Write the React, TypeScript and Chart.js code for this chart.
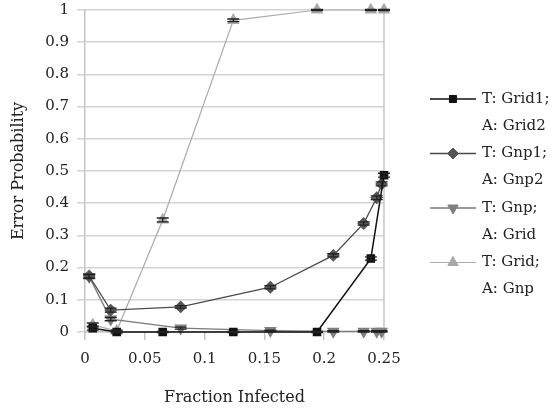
import React, { useEffect, useRef } from "react";
import { Chart, registerables } from "chart.js";
import { drawPoint } from "chart.js/helpers";

Chart.register(...registerables);

const xTickLabels = ["0", "0.05", "0.1", "0.15", "0.2", "0.25"];
const yTickLabels = ["0", "0.1", "0.2", "0.3", "0.4", "0.5", "0.6", "0.7", "0.8", "0.9", "1"];

const xGrid = [0.0065, 0.0265, 0.065, 0.124, 0.194, 0.239, 0.25];
const xGnp = [0.0035, 0.0215, 0.08, 0.155, 0.2076, 0.233, 0.2439, 0.248];

const yGrid1Grid2 = [0.012, 0.0, 0.0, 0.0, 0.0, 0.228, 0.487];
const eGrid1Grid2 = [0.006, 0.003, 0.002, 0.002, 0.002, 0.005, 0.006];

const yGnp1Gnp2 = [0.174, 0.068, 0.078, 0.139, 0.238, 0.337, 0.417, 0.46];
const eGnp1Gnp2 = [0.006, 0.006, 0.004, 0.005, 0.005, 0.005, 0.006, 0.006];

const yGnpGrid = [0.172, 0.04, 0.012, 0.004, 0.002, 0.002, 0.002, 0.002];
const eGnpGrid = [0.006, 0.005, 0.003, 0.002, 0.002, 0.002, 0.002, 0.002];

const yGridGnp = [0.022, 0.003, 0.348, 0.968, 1.0, 1.0, 1.0];
const eGridGnp = [0.006, 0.003, 0.006, 0.004, 0.002, 0.002, 0.002];

const seriesNames = [
  ["T: Grid1;", "A: Grid2"],
  ["T: Gnp1;", "A: Gnp2"],
  ["T: Gnp;", "A: Grid"],
  ["T: Grid;", "A: Gnp"],
];

const FONT = "'DejaVu Serif', serif";
const FSIZE = 15;

const toPts = (xs: number[], ys: number[]) => xs.map((x, i) => ({ x, y: ys[i] }));

const errorBarPlugin = {
  id: "errorBars",
  afterDatasetsDraw(chart: any) {
    const ctx = chart.ctx;
    const xs = chart.scales.x;
    const ys = chart.scales.y;
    chart.data.datasets.forEach((ds: any) => {
      const errs: number[] = ds.errors || [];
      ctx.save();
      ctx.strokeStyle = "#222";
      ctx.lineWidth = 1.3;
      ds.data.forEach((p: any, i: number) => {
        const e = errs[i] || 0;
        const px = xs.getPixelForValue(p.x);
        const y1 = ys.getPixelForValue(p.y + e);
        const y2 = ys.getPixelForValue(p.y - e);
        ctx.beginPath();
        ctx.moveTo(px, y1);
        ctx.lineTo(px, y2);
        ctx.moveTo(px - 6, y1);
        ctx.lineTo(px + 6, y1);
        ctx.moveTo(px - 6, y2);
        ctx.lineTo(px + 6, y2);
        ctx.stroke();
      });
      ctx.restore();
    });
  },
};

const frameAndLegendPlugin = {
  id: "frameLegend",
  beforeDatasetsDraw(chart: any) {
    const ctx = chart.ctx;
    const a = chart.chartArea;
    ctx.save();
    ctx.strokeStyle = "#c4c4c4";
    ctx.lineWidth = 1.5;
    ctx.beginPath();
    ctx.moveTo(a.right, a.top);
    ctx.lineTo(a.right, a.bottom);
    ctx.stroke();
    ctx.restore();
  },
  afterDraw(chart: any) {
    const ctx = chart.ctx;
    const top = 99;
    const gap = 54.5;
    chart.data.datasets.forEach((ds: any, i: number) => {
      const y = top + i * gap;
      ctx.save();
      ctx.strokeStyle = ds.borderColor;
      ctx.lineWidth = ds.borderWidth;
      ctx.beginPath();
      ctx.moveTo(430, y);
      ctx.lineTo(476, y);
      ctx.stroke();
      ctx.fillStyle = ds.pointBackgroundColor;
      ctx.strokeStyle = ds.pointBorderColor;
      ctx.lineWidth = 1;
      drawPoint(
        ctx,
        { pointStyle: ds.pointStyle, rotation: ds.pointRotation || 0, radius: ds.pointRadius, borderWidth: 1 },
        453,
        y
      );
      ctx.fillStyle = "#222";
      ctx.font = `${FSIZE}px ${FONT}`;
      ctx.textBaseline = "middle";
      ctx.textAlign = "left";
      const lines: string[] = ds.label;
      lines.forEach((t, k) => ctx.fillText(t, 482, y + k * 27));
      ctx.restore();
    });
  },
};

export default function App() {
  const ref = useRef<HTMLCanvasElement>(null);
  useEffect(() => {
    document.body.style.margin = "0";
    const canvas = ref.current!;
    const chart = new Chart(canvas, {
      type: "scatter",
      data: {
        datasets: [
          {
            label: seriesNames[0] as any,
            data: toPts(xGrid, yGrid1Grid2),
            errors: eGrid1Grid2,
            showLine: true,
            borderColor: "#111111",
            borderWidth: 1.5,
            pointStyle: "rect",
            pointRadius: 5,
            pointBackgroundColor: "#111111",
            pointBorderColor: "#111111",
          } as any,
          {
            label: seriesNames[1] as any,
            data: toPts(xGnp, yGnp1Gnp2),
            errors: eGnp1Gnp2,
            showLine: true,
            borderColor: "#4a4a4a",
            borderWidth: 1.3,
            pointStyle: "rectRot",
            pointRadius: 5.5,
            pointBackgroundColor: "#555555",
            pointBorderColor: "#555555",
          } as any,
          {
            label: seriesNames[2] as any,
            data: toPts(xGnp, yGnpGrid),
            errors: eGnpGrid,
            showLine: true,
            borderColor: "#7a7a7a",
            borderWidth: 1.3,
            pointStyle: "triangle",
            pointRotation: 180,
            pointRadius: 6,
            pointBackgroundColor: "#7f7f7f",
            pointBorderColor: "#7f7f7f",
          } as any,
          {
            label: seriesNames[3] as any,
            data: toPts(xGrid, yGridGnp),
            errors: eGridGnp,
            showLine: true,
            borderColor: "#ababab",
            borderWidth: 1.2,
            pointStyle: "triangle",
            pointRadius: 6,
            pointBackgroundColor: "#a8a8a8",
            pointBorderColor: "#a8a8a8",
          } as any,
        ],
      },
      options: {
        animation: false,
        responsive: false,
        clip: false as any,
        layout: { padding: { left: 0, right: 167, top: 10, bottom: 0 } },
        plugins: { legend: { display: false }, tooltip: { enabled: false } },
        scales: {
          x: {
            type: "linear",
            min: 0,
            max: 0.25,
            afterFit: (s: any) => {
              s.height = 78;
              s.paddingLeft = 0;
              s.paddingRight = 0;
            },
            ticks: {
              stepSize: 0.05,
              color: "#222",
              font: { family: FONT, size: FSIZE },
              padding: 10,
              maxRotation: 0,
              callback: (_v: any, i: number) => xTickLabels[i],
            },
            grid: { drawOnChartArea: false, drawTicks: true, tickLength: 8, color: "#c4c4c4", lineWidth: 1.5 },
            border: { color: "#c4c4c4", width: 1.5 },
            title: {
              display: true,
              text: "Fraction Infected",
              color: "#222",
              font: { family: FONT, size: 16 },
              padding: { top: 0, bottom: 3 },
            },
          },
          y: {
            type: "linear",
            min: 0,
            max: 1,
            afterFit: (s: any) => {
              s.width = 85;
              s.paddingTop = 0;
              s.paddingBottom = 0;
            },
            ticks: {
              stepSize: 0.1,
              color: "#222",
              font: { family: FONT, size: FSIZE },
              padding: 8,
              callback: (_v: any, i: number) => yTickLabels[i],
            },
            grid: { color: "#d4d4d4", lineWidth: 1.5, tickLength: 8 },
            border: { color: "#c4c4c4", width: 1.5 },
            title: {
              display: true,
              text: "Error Probability",
              color: "#222",
              font: { family: FONT, size: 16 },
              padding: { top: 9, bottom: 0 },
            },
          },
        },
      },
      plugins: [frameAndLegendPlugin, errorBarPlugin],
    });
    return () => chart.destroy();
  }, []);
  return <canvas ref={ref} width={551} height={410} style={{ display: "block" }} />;
}
